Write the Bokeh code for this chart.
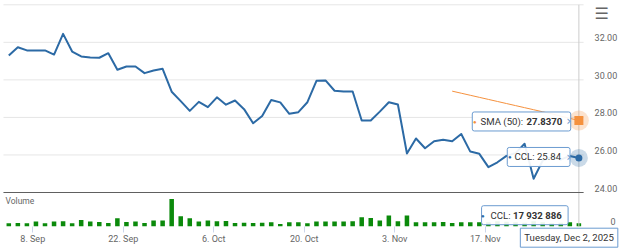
from bokeh.plotting import figure
from bokeh.models import Range1d, FixedTicker, CustomJSTickFormatter, Label, LinearAxis
from bokeh.embed import file_html
from bokeh.resources import INLINE

# ---------------- data ----------------
symbol = "CCL"
sma_name = "SMA (50)"
last_date = "Tuesday, Dec 2, 2025"

close = [31.30, 31.74, 31.57, 31.57, 31.57, 31.35, 32.45, 31.51, 31.25, 31.19,
         31.18, 31.42, 30.54, 30.71, 30.71, 30.36, 30.50, 30.59, 29.37, 28.87,
         28.35, 28.83, 28.55, 29.07, 28.68, 28.90, 28.44, 27.69, 28.08, 28.93,
         28.80, 28.19, 28.28, 28.81, 29.95, 29.97, 29.42, 29.38, 29.38, 27.84,
         27.84, 28.31, 28.81, 28.69, 26.08, 26.88, 26.36, 26.73, 26.81, 26.73,
         27.12, 26.18, 26.06, 25.35, 25.61, 25.95, 26.10, 26.60, 24.73, 25.70,
         25.90, 25.75, 25.95, 25.84]

volume = [18000000, 18500000, 17600000, 28200000, 18300000, 28000000, 30100000, 18200000,
          37800000, 28300000, 25900000, 19800000, 48000000, 25800000, 28100000, 19900000,
          34200000, 34000000, 163800000, 60100000, 48200000, 28000000, 34100000, 30200000,
          31800000, 19900000, 20100000, 19800000, 20000000, 24100000, 13900000, 24000000,
          24200000, 18000000, 28100000, 28300000, 27900000, 28000000, 30100000, 54000000,
          49800000, 34200000, 64200000, 30000000, 64100000, 24000000, 24200000, 23900000,
          25800000, 19800000, 24100000, 24000000, 24300000, 23800000, 30000000, 27100000,
          24000000, 21000000, 30200000, 24100000, 18100000, 21200000, 24000000, 17932886]

sma_start = 49
sma = [29.40, 29.29, 29.18, 29.07, 28.96, 28.85, 28.74, 28.63, 28.52, 28.41,
       28.30, 28.19, 28.07, 27.95, 27.837]

x_tick_idx = [3, 13, 23, 33, 43, 53]
x_tick_labels = ["8. Sep", "22. Sep", "6. Oct", "20. Oct", "3. Nov", "17. Nov"]
price_label_ticks = [24, 26, 28, 30, 32]
price_grid_ticks = [24, 26, 28, 30, 32, 34]
volume_label_ticks = [0]

idx = list(range(len(close)))
sma_idx = idx[sma_start:sma_start + len(sma)]

# ---------------- style / layout ----------------
BLUE = "#2c6aa5"
ORANGE = "#f5913e"
GREEN = "#0b8a0b"
FONT = "Roboto"
LABEL_GRAY = "#666666"
TIP_BORDER = "#6b9bd0"
TIP_SIZE = "9.6px"

# the frame fills the whole canvas; the plotting area is a sub-rectangle of it
X0, X1 = -0.917, 67.6          # full canvas in index units
Y0, Y1 = 21.017, 34.229        # full canvas in price units
AREA_LEFT, AREA_RIGHT = -0.586, 63.52
AREA_TOP = 34.0
BASE_P = 22.205                # volume baseline, in price units
PANE_SPLIT = 24.0
VOL_PER_PRICE = 112.6e6        # volume units per price unit
LABEL_SHIFT = 0.24             # y labels sit a few px above their gridline
VOL_LABEL_SHIFT = 30e6
VOL_AXIS_SHIFT = 1.77          # right-align the single volume label

p = figure(width=620, height=248, output_backend="svg", toolbar_location=None,
           x_range=Range1d(X0, X1), y_range=Range1d(Y0, Y1),
           y_axis_location="right", min_border=0,
           min_border_left=0, min_border_right=0, min_border_top=0, min_border_bottom=0)
p.outline_line_color = None
p.extra_y_ranges = {"vol": Range1d((Y0 - BASE_P) * VOL_PER_PRICE, (Y1 - BASE_P) * VOL_PER_PRICE)}


def style_axis(ax):
    ax.axis_line_color = None
    ax.minor_tick_line_color = None
    ax.major_label_text_font = FONT
    ax.major_label_text_font_size = "9px"
    ax.major_label_text_color = LABEL_GRAY


# x axis, drawn at the volume baseline
xa = p.xaxis[0]
style_axis(xa)
xa.fixed_location = BASE_P
xa.ticker = FixedTicker(ticks=[i - 0.35 for i in x_tick_idx])
xa.formatter = CustomJSTickFormatter(args=dict(idx=x_tick_idx, names=x_tick_labels),
                                     code="const k = idx.indexOf(Math.round(tick)); return k >= 0 ? names[k] : '';")
xa.major_tick_line_color = "#ccd6eb"
xa.major_tick_out = 6
xa.major_tick_in = 0
xa.major_label_standoff = 2

# price axis, at the right edge of the plot area
ya = p.yaxis[0]
style_axis(ya)
ya.fixed_location = AREA_RIGHT
ya.ticker = FixedTicker(ticks=[t + LABEL_SHIFT for t in price_label_ticks])
ya.formatter = CustomJSTickFormatter(code="return (Math.round(tick / 2) * 2).toFixed(2);")
ya.major_tick_line_color = None
ya.major_label_standoff = 5

# volume axis (only its "0" label)
va = LinearAxis(y_range_name="vol", fixed_location=AREA_RIGHT + VOL_AXIS_SHIFT)
style_axis(va)
va.ticker = FixedTicker(ticks=[v + VOL_LABEL_SHIFT for v in volume_label_ticks])
va.formatter = CustomJSTickFormatter(code="return (Math.round(tick / 1e8) * 1e8).toFixed(0);")
va.major_tick_line_color = None
va.major_label_standoff = 5
p.add_layout(va, "right")

p.xgrid.visible = False
p.ygrid[0].visible = False
# horizontal gridlines across the plot area only
p.segment(x0=[AREA_LEFT] * len(price_grid_ticks), x1=[AREA_RIGHT] * len(price_grid_ticks),
          y0=price_grid_ticks, y1=price_grid_ticks, line_color="#e6e6e6", line_width=1)

# volume bars
p.vbar(x=idx, top=volume, width=0.5, y_range_name="vol", fill_color=GREEN, line_color=None)

# crosshair
p.segment(x0=[idx[-1]], x1=[idx[-1]], y0=[AREA_TOP], y1=[BASE_P], line_color="#cccccc", line_width=1)
# pane separator
p.segment(x0=[AREA_LEFT], x1=[AREA_RIGHT], y0=[PANE_SPLIT], y1=[PANE_SPLIT], line_color="#606060", line_width=1)

# lines
p.line(sma_idx, sma, line_color=ORANGE, line_width=1)
p.line(idx, close, line_color=BLUE, line_width=2, line_join="round")

# hover markers
p.scatter([sma_idx[-1]], [sma[-1]], size=20, marker="circle", fill_color=ORANGE, fill_alpha=0.25, line_color=None)
p.scatter([sma_idx[-1]], [sma[-1]], size=9, marker="square", fill_color=ORANGE, line_color=None)
p.scatter([idx[-1]], [close[-1]], size=18, marker="circle", fill_color=BLUE, fill_alpha=0.25, line_color=None)
p.scatter([idx[-1]], [close[-1]], size=7, marker="circle", fill_color=BLUE, line_color=None)


def label(x, y, text, dx, dy, size=TIP_SIZE, color="#333333", align="left", bold=False, rng="default", **kw):
    return Label(x=x, y=y, x_offset=dx, y_offset=dy, text=text, text_font=FONT,
                 text_font_size=size, text_color=color, text_align=align,
                 text_baseline="middle", text_font_style="bold" if bold else "normal",
                 y_range_name=rng, **kw)


def box(x, y, width_px, dx, dy, border, rng="default"):
    n = max(1, round((width_px - 8) / 2.4))
    return label(x, y, "\u00a0" * n, dx, dy, rng=rng, background_fill_color="white",
                 background_fill_alpha=0.92, border_line_color=border, border_line_width=1,
                 padding=4, border_radius=2)


def pointer(x, y, dx, dy, rng="default"):
    return Label(x=x, y=y, x_offset=dx, y_offset=dy, text="\u203a", text_font="DejaVu Sans",
                 text_font_size="13px", text_color=TIP_BORDER, text_align="center",
                 text_baseline="middle", y_range_name=rng)


# "Volume" pane title
p.add_layout(label(AREA_LEFT, PANE_SPLIT, "Volume", 2, -8, size="8.5px", color=LABEL_GRAY))

# SMA tooltip
sx, sy = sma_idx[-1], sma[-1]
p.add_layout(box(sx, sy, 98, -106.6, -1, TIP_BORDER))
p.add_layout(pointer(sx, sy, -10, 0))
p.add_layout(label(sx, sy, "\u25cf", -104, -1, size="6px", color=ORANGE, align="center"))
p.add_layout(label(sx, sy, f"{sma_name}:", -98.3, -1))
p.add_layout(label(sx, sy, f"{sma[-1]:.4f}", -52.5, -1, bold=True))

# price tooltip
cx, cy = idx[-1], close[-1]
p.add_layout(box(cx, cy, 63, -71.6, 1, TIP_BORDER))
p.add_layout(pointer(cx, cy, -10, 1))
p.add_layout(label(cx, cy, "\u25cf", -69, 1, size="6px", color=BLUE, align="center"))
p.add_layout(label(cx, cy, f"{symbol}: {close[-1]:.2f}", -64.3, 1))

# volume tooltip
vx, vy = idx[-1], volume[-1]
vol_txt = f"{volume[-1]:,}".replace(",", " ")
p.add_layout(box(vx, vy, 88, -97.3, 8, TIP_BORDER, rng="vol"))
p.add_layout(label(vx, vy, "\u25cf", -96, 8, size="6px", color=BLUE, align="center", rng="vol"))
p.add_layout(label(vx, vy, f"{symbol}:", -88.3, 8, rng="vol"))
p.add_layout(label(vx, vy, vol_txt, -66, 8, bold=True, rng="vol"))

# date label under crosshair
p.add_layout(label(idx[-1], 0, last_date, -9.8, -11.5, align="center", rng="vol",
                   background_fill_color="white", border_line_color=TIP_BORDER,
                   border_line_width=1, padding=4))

# menu icon
p.add_layout(Label(x=AREA_RIGHT, y=Y1, x_offset=18, y_offset=-13, text="\u2630", text_font="DejaVu Sans",
                   text_font_size="16px", text_color="#666666", text_align="center",
                   text_baseline="middle"))

open("out.html", "w").write(file_html(p, INLINE))
